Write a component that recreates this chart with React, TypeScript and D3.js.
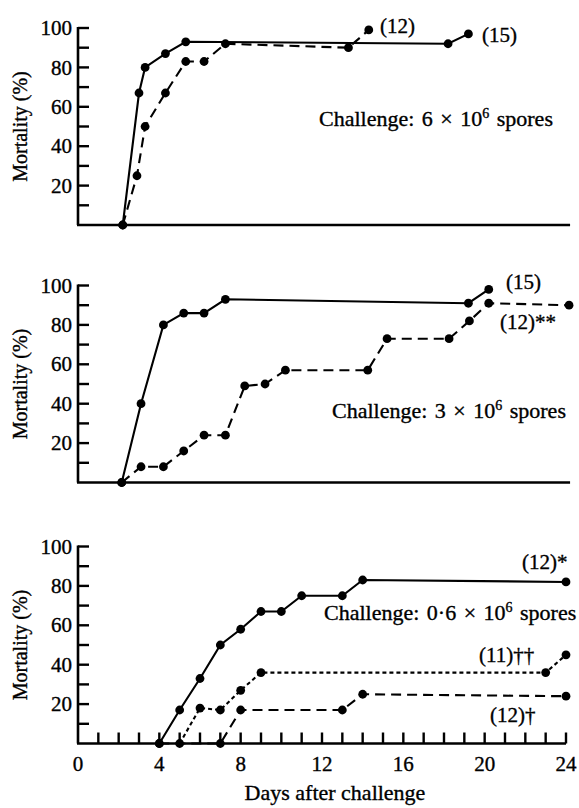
import * as d3 from 'd3';

// days after challenge, mortality (%)
const top6Solid: [number, number][] = [[2.2, 0], [3.0, 67], [3.3, 80], [4.3, 87], [5.3, 93], [18.2, 92], [19.2, 97]];
const top6Dashed: [number, number][] = [[2.2, 0], [2.9, 25], [3.3, 50], [4.3, 67], [5.3, 83], [6.2, 83], [7.25, 92], [13.3, 90], [14.3, 99]];

const mid3Solid: [number, number][] = [[2.15, 0], [3.1, 40], [4.2, 80], [5.2, 86], [6.2, 86], [7.25, 93], [19.2, 91], [20.2, 98]];
const mid3Dashed: [number, number][] = [
  [2.15, 0], [3.1, 8], [4.2, 8], [5.2, 16], [6.2, 24], [7.25, 24], [8.2, 49], [9.2, 50], [10.2, 57],
  [14.25, 57], [15.2, 73], [18.25, 73], [19.25, 82], [20.2, 91], [24.15, 90],
];

const low06Solid: [number, number][] = [[4, 0], [5, 17], [6, 33], [7, 50], [8, 58], [9, 67], [10, 67], [11, 75], [13, 75], [14, 83], [24, 82]];
const low06Dotted: [number, number][] = [[5, 0], [6, 18], [7, 17], [8, 27], [9, 36], [23, 36], [24, 45]];
const low06Dashed: [number, number][] = [[4, 0], [7, 0], [8, 17], [13, 17], [14, 25], [24, 24]];

const yTickLabels = [20, 40, 60, 80, 100];
const yMinorTicks = [10, 20, 30, 40, 50, 60, 70, 80, 90, 100];
const xTickLabels = [0, 4, 8, 12, 16, 20, 24];
const xDayTicks = d3.range(1, 25);

const FONT = '"Liberation Serif", "DejaVu Serif", serif';
const x = d3.scaleLinear().domain([0, 24]).range([78, 566]);

const DASH = { solid: undefined, dashed: '10 6', dotted: '4 3' } as const;

type Series = { data: [number, number][]; style: keyof typeof DASH };

// slight stroke so the type reads as heavy as the printed figure
const ink = { fill: '#000', stroke: '#000', strokeWidth: 0.35, fontFamily: FONT } as const;

function Panel({ y0, series, children, xTicks }: { y0: number; series: Series[]; children?: any; xTicks?: boolean }) {
  const y = d3.scaleLinear().domain([0, 100]).range([y0, y0 - 197]);
  const line = d3.line<[number, number]>().x(d => x(d[0])).y(d => y(d[1]));
  const axisEnd = xTicks ? x(24) : x(24.2);
  return (
    <g>
      {/* axes */}
      <line x1={x(0)} x2={x(0)} y1={y(100) - 1} y2={y(0)} stroke="#000" strokeWidth={2.6} />
      <line x1={x(0) - 1} x2={axisEnd} y1={y(0)} y2={y(0)} stroke="#000" strokeWidth={2.6} />
      {yMinorTicks.map(t => (
        <line key={t} x1={x(0)} x2={x(0) + 11} y1={y(t)} y2={y(t)} stroke="#000" strokeWidth={2.4} />
      ))}
      {yTickLabels.map(t => (
        <text key={t} x={x(0) - 6} y={y(t)} dy="0.34em" textAnchor="end" fontSize={21} {...ink}>{t}</text>
      ))}
      <text transform={`translate(27,${y(50)}) rotate(-90)`} textAnchor="middle" fontSize={20} {...ink}>Mortality (%)</text>
      {xTicks && xDayTicks.map(d => (
        <line key={d} x1={x(d)} x2={x(d)} y1={y(0)} y2={y(0) - 11} stroke="#000" strokeWidth={2.4} />
      ))}
      {xTicks && xTickLabels.map(d => (
        <text key={d} x={x(d)} y={y(0) + 27} textAnchor="middle" fontSize={21} {...ink}>{d}</text>
      ))}
      {/* data */}
      {series.map((s, i) => (
        <g key={i}>
          <path d={line(s.data) ?? ''} fill="none" stroke="#000" strokeWidth={2.1} strokeDasharray={DASH[s.style]} />
          {s.data.map((p, j) => (
            <circle key={j} cx={x(p[0])} cy={y(p[1])} r={4.4} fill="#000" />
          ))}
        </g>
      ))}
      {children}
    </g>
  );
}

function Challenge({ x0, y0, dose }: { x0: number; y0: number; dose: string }) {
  return (
    <text x={x0} y={y0} fontSize={22} wordSpacing={2} {...ink}>
      Challenge: {dose} × 10<tspan fontSize={14} dy={-8}>6</tspan><tspan dy={8}> spores</tspan>
    </text>
  );
}

const lbl = { fontSize: 21, ...ink } as const;

export default function App() {
  return (
    <div style={{ position: 'absolute', left: 0, top: 0 }}>
      <svg width={579} height={808} viewBox="0 0 579 808" style={{ display: 'block', background: '#fff' }}>
        <Panel y0={225} series={[{ data: top6Solid, style: 'solid' }, { data: top6Dashed, style: 'dashed' }]}>
          <text x={380} y={33} {...lbl}>(12)</text>
          <text x={482} y={42} {...lbl}>(15)</text>
          <Challenge x0={319} y0={126} dose="6" />
        </Panel>
        <Panel y0={482.5} series={[{ data: mid3Solid, style: 'solid' }, { data: mid3Dashed, style: 'dashed' }]}>
          <text x={506} y={289} {...lbl}>(15)</text>
          <text x={500} y={329} {...lbl}>(12)**</text>
          <Challenge x0={332} y0={418} dose="3" />
        </Panel>
        <Panel y0={743.5} xTicks series={[
          { data: low06Solid, style: 'solid' },
          { data: low06Dotted, style: 'dotted' },
          { data: low06Dashed, style: 'dashed' },
        ]}>
          <text x={522} y={569} {...lbl}>(12)*</text>
          <Challenge x0={324} y0={620} dose="0·6" />
          <text x={479} y={662} {...lbl}>(11)††</text>
          <text x={490} y={722} {...lbl}>(12)†</text>
          <text x={335} y={800} textAnchor="middle" fontSize={22} {...ink}>Days after challenge</text>
        </Panel>
      </svg>
    </div>
  );
}
